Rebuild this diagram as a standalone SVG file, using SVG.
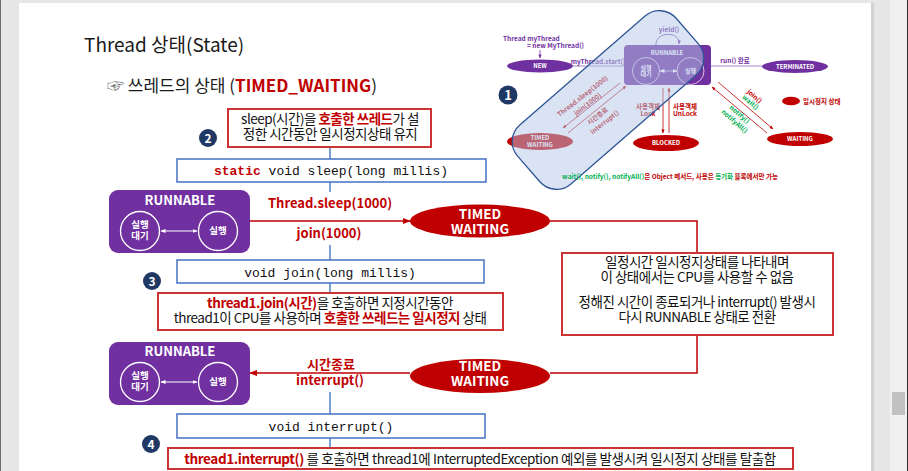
<svg xmlns="http://www.w3.org/2000/svg" width="908" height="471" viewBox="0 0 908 471">
<style>
.k{font-family:"Noto Sans CJK KR","Noto Sans",sans-serif}
.m{font-family:"Liberation Mono","DejaVu Sans Mono",monospace;font-size:13px;fill:#111}
.rb{fill:#c00000;font-weight:bold}
.gb{fill:#00b050;font-weight:bold}
.redbox{fill:#fff;stroke:#cc3333;stroke-width:2}
.codebox{fill:#fff;stroke:#4472c4;stroke-width:1.5}
.bl{stroke:#4f81c7;stroke-width:1.5;fill:none}
.rl{stroke:#c00000;stroke-width:1.5;fill:none}
.run{fill:#7030a0}
.wc{fill:none;stroke:#fff;stroke-width:1.3}
.tw{fill:#c00000}
.wt{fill:#fff;font-weight:bold}
.num{fill:#1f3864}
.mp{fill:#7030a0;font-weight:bold;font-size:6.5px}
.mr{fill:#c00000;font-weight:bold;font-size:6.5px}
.mg{fill:#00b050;font-weight:bold;font-size:6.5px}
.mw{fill:#fff;font-weight:bold;font-size:6px}
</style>
<defs>
<marker id="ar" viewBox="0 0 10 10" refX="9" refY="5" markerUnits="userSpaceOnUse" markerWidth="8" markerHeight="8" orient="auto-start-reverse"><path d="M0,1 L10,5 L0,9 z" fill="#c00000"/></marker>
<marker id="arw" viewBox="0 0 10 10" refX="9" refY="5" markerUnits="userSpaceOnUse" markerWidth="5" markerHeight="5" orient="auto-start-reverse"><path d="M0,1 L10,5 L0,9 z" fill="#fff"/></marker>
<marker id="ars" viewBox="0 0 10 10" refX="9" refY="5" markerUnits="userSpaceOnUse" markerWidth="4" markerHeight="4" orient="auto-start-reverse"><path d="M0,1 L10,5 L0,9 z" fill="#c00000"/></marker>
<marker id="arp" viewBox="0 0 10 10" refX="9" refY="5" markerUnits="userSpaceOnUse" markerWidth="4" markerHeight="4" orient="auto-start-reverse"><path d="M0,1 L10,5 L0,9 z" fill="#7030a0"/></marker>
</defs>

<!-- viewer background -->
<rect x="0" y="0" width="908" height="471" fill="#e6e6e6"/>
<rect x="0" y="0" width="1" height="471" fill="#6e6e6e"/>
<rect x="871" y="3" width="3" height="468" fill="#d2d2d2"/>
<rect x="19" y="3" width="852" height="468" fill="#ffffff"/>
<rect x="890" y="0" width="17" height="471" fill="#f0f0f0"/>
<rect x="907" y="0" width="1" height="471" fill="#333"/>
<rect x="892" y="392" width="13" height="23" fill="#c1c1c1"/>

<!-- titles -->
<text class="k" x="84" y="52" font-size="19" fill="#1a1a1a">Thread 상태(State)</text>
<text class="k" x="107" y="92" font-size="17" fill="#1a1a1a"><tspan fill="#666">☞</tspan> 쓰레드의 상태 (<tspan class="rb">TIMED_WAITING</tspan>)</text>

<!-- connectors -->
<g id="connectors">
<line class="bl" x1="330" y1="147" x2="330" y2="159"/>
<line class="bl" x1="330" y1="182" x2="330" y2="192"/>
<line class="bl" x1="330" y1="245" x2="330" y2="260"/>
<line class="bl" x1="330" y1="283" x2="330" y2="293"/>
<line class="bl" x1="330" y1="392" x2="330" y2="414"/>
<line class="bl" x1="330" y1="438" x2="330" y2="448"/>
<line class="rl" x1="250" y1="221" x2="410" y2="221" marker-end="url(#ar)"/>
<line class="rl" x1="410" y1="373" x2="250" y2="373" marker-end="url(#ar)"/>
<polyline class="rl" points="550,221 697,221 697,253"/>
<polyline class="rl" points="697,335 697,373 550,373"/>
</g>

<!-- number badges -->
<g id="badge2"><circle class="num" cx="208" cy="138" r="9"/><text class="k" x="208" y="142.5" font-size="12" font-weight="bold" fill="#fff" text-anchor="middle">2</text></g>
<g id="badge3"><circle class="num" cx="152" cy="281" r="9"/><text class="k" x="152" y="285.5" font-size="12" font-weight="bold" fill="#fff" text-anchor="middle">3</text></g>
<g id="badge4"><circle class="num" cx="151" cy="444" r="9"/><text class="k" x="151" y="448.5" font-size="12" font-weight="bold" fill="#fff" text-anchor="middle">4</text></g>

<!-- note 2 -->
<g id="note-sleep">
<rect class="redbox" x="228" y="109" width="203" height="38"/>
<text class="k" x="330" y="124" font-size="13.5" letter-spacing="-0.5" text-anchor="middle" fill="#111">sleep(시간)을 <tspan class="rb">호출한 쓰레드</tspan>가 설</text>
<text class="k" x="330" y="139" font-size="13.5" letter-spacing="-0.5" text-anchor="middle" fill="#111">정한 시간동안 일시정지상태 유지</text>
</g>

<g id="code-sleep">
<rect class="codebox" x="177" y="159" width="309" height="23"/>
<text class="m" x="331" y="175" text-anchor="middle"><tspan fill="#c00000" font-weight="bold">static</tspan> void sleep(long millis)</text>
</g>

<!-- runnable 1 -->
<g id="runnable1">
<rect class="run" x="109" y="190" width="141" height="63" rx="9"/>
<text class="k wt" x="180" y="205" font-size="13" text-anchor="middle">RUNNABLE</text>
<circle class="wc" cx="140" cy="231" r="19.5"/>
<circle class="wc" cx="218" cy="231" r="19.5"/>
<text class="k wt" x="140" y="228" font-size="9.5" text-anchor="middle">실행</text>
<text class="k wt" x="140" y="239" font-size="9.5" text-anchor="middle">대기</text>
<text class="k wt" x="218" y="234" font-size="9.5" text-anchor="middle">실행</text>
<line x1="161" y1="231" x2="197" y2="231" stroke="#fff" stroke-width="1" marker-start="url(#arw)" marker-end="url(#arw)"/>
</g>

<text class="k rb" x="330" y="208" font-size="13" text-anchor="middle">Thread.sleep(1000)</text>
<text class="k rb" x="329" y="238" font-size="13" text-anchor="middle">join(1000)</text>

<g id="timed1">
<ellipse class="tw" cx="480" cy="221" rx="70" ry="16.5"/>
<text class="k wt" x="480" y="219" font-size="13.5" text-anchor="middle">TIMED</text>
<text class="k wt" x="480" y="234" font-size="13.5" text-anchor="middle">WAITING</text>
</g>

<g id="desc">
<rect class="redbox" x="562" y="253" width="271" height="82"/>
<g class="k" font-size="13.5" letter-spacing="-0.5" text-anchor="middle" fill="#111">
<text x="697" y="267">일정시간 일시정지상태를 나타내며</text>
<text x="697" y="282">이 상태에서는 CPU를 사용할 수 없음</text>
<text x="697" y="307">정해진 시간이 종료되거나 interrupt() 발생시</text>
<text x="697" y="322">다시 RUNNABLE 상태로 전환</text>
</g>
</g>

<g id="code-join">
<rect class="codebox" x="177" y="260" width="307" height="23"/>
<text class="m" x="330" y="277" text-anchor="middle">void join(long millis)</text>
</g>

<g id="note-join">
<rect class="redbox" x="158" y="293" width="345" height="37"/>
<text class="k" x="330" y="308" font-size="13.5" letter-spacing="-0.5" text-anchor="middle" fill="#111"><tspan class="rb">thread1.join(시간)</tspan>을 호출하면 지정시간동안</text>
<text class="k" x="330" y="323" font-size="13.5" letter-spacing="-0.5" text-anchor="middle" fill="#111">thread1이 CPU를 사용하며 <tspan class="rb">호출한 쓰레드는 일시정지</tspan> 상태</text>
</g>

<!-- runnable 2 -->
<g id="runnable2">
<rect class="run" x="109" y="342" width="141" height="63" rx="9"/>
<text class="k wt" x="180" y="356" font-size="13" text-anchor="middle">RUNNABLE</text>
<circle class="wc" cx="140" cy="382" r="19.5"/>
<circle class="wc" cx="218" cy="382" r="19.5"/>
<text class="k wt" x="140" y="379" font-size="9.5" text-anchor="middle">실행</text>
<text class="k wt" x="140" y="390" font-size="9.5" text-anchor="middle">대기</text>
<text class="k wt" x="218" y="385" font-size="9.5" text-anchor="middle">실행</text>
<line x1="161" y1="382" x2="197" y2="382" stroke="#fff" stroke-width="1" marker-start="url(#arw)" marker-end="url(#arw)"/>
</g>

<text class="k rb" x="331" y="369" font-size="13" text-anchor="middle">시간종료</text>
<text class="k rb" x="330" y="385" font-size="13" text-anchor="middle">interrupt()</text>

<g id="timed2">
<ellipse class="tw" cx="480" cy="376" rx="70" ry="17"/>
<text class="k wt" x="480" y="371" font-size="13.5" text-anchor="middle">TIMED</text>
<text class="k wt" x="480" y="386" font-size="13.5" text-anchor="middle">WAITING</text>
</g>

<g id="code-interrupt">
<rect class="codebox" x="177" y="414" width="308" height="24"/>
<text class="m" x="331" y="431" text-anchor="middle">void interrupt()</text>
</g>

<g id="note-interrupt">
<rect class="redbox" x="168" y="448" width="625" height="21"/>
<text class="k" x="480" y="464" font-size="13.5" letter-spacing="-0.4" text-anchor="middle" fill="#111"><tspan class="rb">thread1.interrupt()</tspan> 를 호출하면 thread1에 InterruptedException 예외를 발생시켜 일시정지 상태를 탈출함</text>
</g>

<!-- mini state diagram -->
<g id="mini" class="k">
<g id="badge1"><circle class="num" cx="508" cy="95" r="9.5"/><text x="508" y="100" font-size="13" font-weight="bold" fill="#fff" text-anchor="middle">1</text></g>
<text class="mp" x="503" y="41">Thread myThread</text>
<text class="mp" x="527" y="48">= new MyThread()</text>
<line x1="540" y1="50" x2="540" y2="58" stroke="#7030a0" stroke-width="0.8" marker-end="url(#arp)"/>
<g id="m-new"><ellipse cx="540" cy="66" rx="33" ry="6.5" fill="#7030a0"/><text class="mw" x="540" y="68.2" text-anchor="middle">NEW</text></g>
<line x1="573" y1="66" x2="624" y2="66" stroke="#a585c8" stroke-width="1.2"/>
<text class="mp" x="598" y="63.5" text-anchor="middle">myThread.start()</text>
<g id="m-runnable">
<rect x="624" y="45" width="87" height="40" rx="4" fill="#7030a0"/>
<text class="mw" x="667" y="54.5" text-anchor="middle">RUNNABLE</text>
<circle cx="646" cy="71" r="13.5" fill="none" stroke="#fff" stroke-width="0.7"/>
<circle cx="690.5" cy="71" r="13.5" fill="none" stroke="#fff" stroke-width="0.7"/>
<text class="mw" x="646" y="69.5" font-size="5.5" text-anchor="middle">실행</text>
<text class="mw" x="646" y="76" font-size="5.5" text-anchor="middle">대기</text>
<text class="mw" x="690.5" y="73" font-size="5.5" text-anchor="middle">실행</text>
<line x1="660" y1="71" x2="677" y2="71" stroke="#fff" stroke-width="0.6" marker-start="url(#arw)" marker-end="url(#arw)"/>
</g>
<path d="M656,45 C655,32 680,30 679,44" fill="none" stroke="#7030a0" stroke-width="0.8" marker-end="url(#arp)"/>
<text class="mp" x="669" y="32" text-anchor="middle">yield()</text>
<line x1="711" y1="66" x2="762" y2="66" stroke="#a585c8" stroke-width="1.2"/>
<text class="mp" x="735" y="62.5" text-anchor="middle">run() 완료</text>
<g id="m-terminated"><ellipse cx="795" cy="66.5" rx="33" ry="6.5" fill="#7030a0"/><text class="mw" x="795" y="68.7" text-anchor="middle">TERMINATED</text></g>

<line x1="620" y1="83" x2="563" y2="128" stroke="#c00000" stroke-width="0.8" marker-end="url(#ars)"/>
<line x1="568" y1="133" x2="626" y2="86" stroke="#c00000" stroke-width="0.8" marker-end="url(#ars)"/>
<text class="mr" transform="translate(584,98) rotate(-38)" text-anchor="middle">Thread.sleep(1000)</text>
<text class="mr" transform="translate(589,106) rotate(-38)" text-anchor="middle">join(1000)</text>
<text class="mr" transform="translate(599,118) rotate(-38)" text-anchor="middle">시간종료</text>
<text class="mr" transform="translate(606,124) rotate(-38)" text-anchor="middle">interrupt()</text>

<line x1="663" y1="88" x2="663" y2="133" stroke="#c00000" stroke-width="0.8" marker-end="url(#ars)"/>
<line x1="669" y1="133" x2="669" y2="88" stroke="#c00000" stroke-width="0.8" marker-end="url(#ars)"/>
<text class="mr" x="648" y="108.5" text-anchor="middle">사용객체</text>
<text class="mr" x="648" y="116" text-anchor="middle">Lock</text>
<text class="mr" x="685" y="108.5" text-anchor="middle">사용객체</text>
<text class="mr" x="685" y="116" text-anchor="middle">UnLock</text>
<g id="m-blocked"><ellipse cx="666" cy="143" rx="33" ry="8" fill="#c00000"/><text class="mw" x="666" y="145.2" text-anchor="middle">BLOCKED</text></g>

<line x1="718" y1="82" x2="773" y2="129" stroke="#c00000" stroke-width="0.8" marker-end="url(#ars)"/>
<line x1="767" y1="133" x2="712" y2="87" stroke="#c00000" stroke-width="0.8" marker-end="url(#ars)"/>
<text class="mr" transform="translate(753,98) rotate(41)" text-anchor="middle">join()</text>
<text class="mg" transform="translate(749,104) rotate(41)" text-anchor="middle">wait()</text>
<text class="mg" transform="translate(738,116) rotate(41)" text-anchor="middle">notify()</text>
<text class="mg" transform="translate(733,123) rotate(41)" text-anchor="middle">notifyAll()</text>
<g id="m-waiting"><ellipse cx="800" cy="139" rx="33" ry="7" fill="#c00000"/><text class="mw" x="800" y="141.2" text-anchor="middle">WAITING</text></g>

<ellipse cx="791" cy="101" rx="9" ry="4.3" fill="#c00000"/>
<text class="mr" x="803" y="103.5">일시정지 상태</text>

<g id="m-timed"><ellipse cx="540" cy="141.5" rx="33" ry="8.5" fill="#c00000"/><text class="mw" x="540" y="140" text-anchor="middle">TIMED</text><text class="mw" x="540" y="147" text-anchor="middle">WAITING</text></g>

<rect x="503" y="61" width="210" height="78" rx="22" transform="rotate(-41 608 100)" fill="#b4c7e7" fill-opacity="0.5" stroke="#2f5597" stroke-width="1.3"/>

<text x="670" y="178.5" font-size="6.5" font-weight="bold" text-anchor="middle" fill="#c00000"><tspan fill="#00b050">wait(), notify(), notifyAll()</tspan>은 Object 메서드, 사용은 <tspan fill="#00b050">동기화</tspan> 블록에서만 가능</text>
</g>
</svg>
